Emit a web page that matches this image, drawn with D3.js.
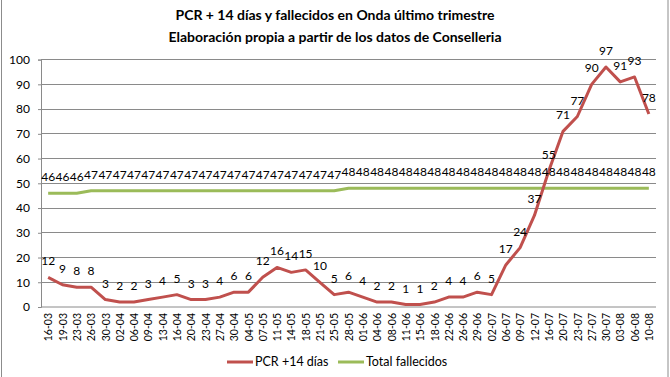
<!DOCTYPE html>
<html>
<head>
<meta charset="utf-8">
<script src="https://cdn.jsdelivr.net/npm/d3@7"></script>
<style>
  body { margin: 0; background: #fff; }
  text { font-family: Lato, "Open Sans", sans-serif; fill: #000; }
</style>
</head>
<body>
<svg id="chart" width="670" height="377"></svg>
<script>
// categories (dates) and series
const fechas = ["16-03","19-03","23-03","26-03","30-03","02-04","06-04","09-04","13-04","16-04",
  "20-04","23-04","27-04","30-04","04-05","07-05","11-05","14-05","18-05","21-05",
  "25-05","28-05","01-06","04-06","08-06","11-06","15-06","18-06","22-06","26-06",
  "29-06","02-07","06-07","09-07","12-07","16-07","20-07","23-07","27-07","30-07",
  "03-08","06-08","10-08"];
const pcr = [12,9,8,8,3,2,2,3,4,5,3,3,4,6,6,12,16,14,15,10,5,6,4,2,2,1,1,2,4,4,6,5,17,24,37,55,71,77,90,97,91,93,78];
const fallecidos = [46,46,46,47,47,47,47,47,47,47,47,47,47,47,47,47,47,47,47,47,47,
  48,48,48,48,48,48,48,48,48,48,48,48,48,48,48,48,48,48,48,48,48,48];
const yTicks = [0,10,20,30,40,50,60,70,80,90,100];
const titulo = ["PCR + 14 días y fallecidos en Onda último trimestre",
  "Elaboración propia a partir de los datos de Conselleria"];

const series = [
  { name: "PCR +14 días", values: pcr, color: "#C0504D" },
  { name: "Total fallecidos", values: fallecidos, color: "#9BBB59" }
];

const svg = d3.select("#chart");
const W = 670, H = 377;
const plotL = 41, plotR = 656, plotT = 59.6, plotB = 307;

// frame (only left and right edges show in the picture)
svg.append("rect")
  .attr("x", 1.5).attr("y", -2)
  .attr("width", W - 3.5).attr("height", H + 4)
  .attr("fill", "#fff").attr("stroke", "#8c8c8c");

const x = d3.scalePoint().domain(fechas).range([plotL, plotR]).padding(0.5);
const y = d3.scaleLinear().domain([0, 100]).range([plotB, plotT]);

// title
svg.append("g").selectAll("text")
  .data(titulo)
  .join("text")
  .attr("x", 335).attr("y", (d, i) => 20 + i * 22)
  .attr("text-anchor", "middle")
  .attr("font-weight", "bold")
  .attr("font-size", 14)
  .text(d => d);

// grid lines
svg.append("g").selectAll("line")
  .data(yTicks.filter(d => d > 0))
  .join("line")
  .attr("x1", plotL).attr("x2", plotR)
  .attr("y1", d => y(d)).attr("y2", d => y(d))
  .attr("stroke", "#8a8a8a").attr("stroke-width", 1)
  .attr("shape-rendering", "crispEdges");

// y axis
const yAxis = svg.append("g")
  .attr("transform", `translate(${plotL},0)`)
  .call(d3.axisLeft(y).tickValues(yTicks).tickSize(3).tickPadding(8));
yAxis.select(".domain").attr("stroke", "#8a8a8a");
yAxis.selectAll(".tick line").attr("stroke", "#8a8a8a");
yAxis.selectAll("text").attr("font-size", 12).attr("font-family", "Lato, sans-serif");

// x axis
const xAxis = svg.append("g")
  .attr("transform", `translate(0,${plotB})`)
  .call(d3.axisBottom(x).tickSize(0).tickSizeOuter(0));
xAxis.select(".domain").attr("stroke", "#8a8a8a").attr("d", `M${plotL},0H${plotR}`);
xAxis.selectAll("text")
  .attr("font-size", 10.5)
  .attr("font-family", "Lato, sans-serif")
  .attr("text-anchor", "end")
  .attr("transform", "rotate(-90)")
  .attr("x", -6).attr("y", 0).attr("dy", "0.35em");

// lines
const line = d3.line().x((d, i) => x(fechas[i])).y(d => y(d));
svg.append("g").selectAll("path")
  .data(series.slice().reverse())
  .join("path")
  .attr("fill", "none")
  .attr("stroke", d => d.color)
  .attr("stroke-width", 3)
  .attr("stroke-linejoin", "round")
  .attr("d", d => line(d.values));

// data labels
series.forEach(s => {
  svg.append("g").selectAll("text")
    .data(s.values)
    .join("text")
    .attr("x", (d, i) => x(fechas[i]))
    .attr("y", d => y(d) - 12)
    .attr("text-anchor", "middle")
    .attr("font-size", 12)
    .text(d => d);
});

// legend
const legend = svg.append("g").attr("transform", "translate(0,362)");
const lx = [227, 338];
series.forEach((s, i) => {
  const g = legend.append("g").attr("transform", `translate(${lx[i]},0)`);
  g.append("line").attr("x1", 0).attr("x2", 26).attr("stroke", s.color).attr("stroke-width", 3);
  g.append("text").attr("x", 28).attr("dy", "0.35em").attr("font-size", 12.5).text(s.name);
});
</script>
</body>
</html>
